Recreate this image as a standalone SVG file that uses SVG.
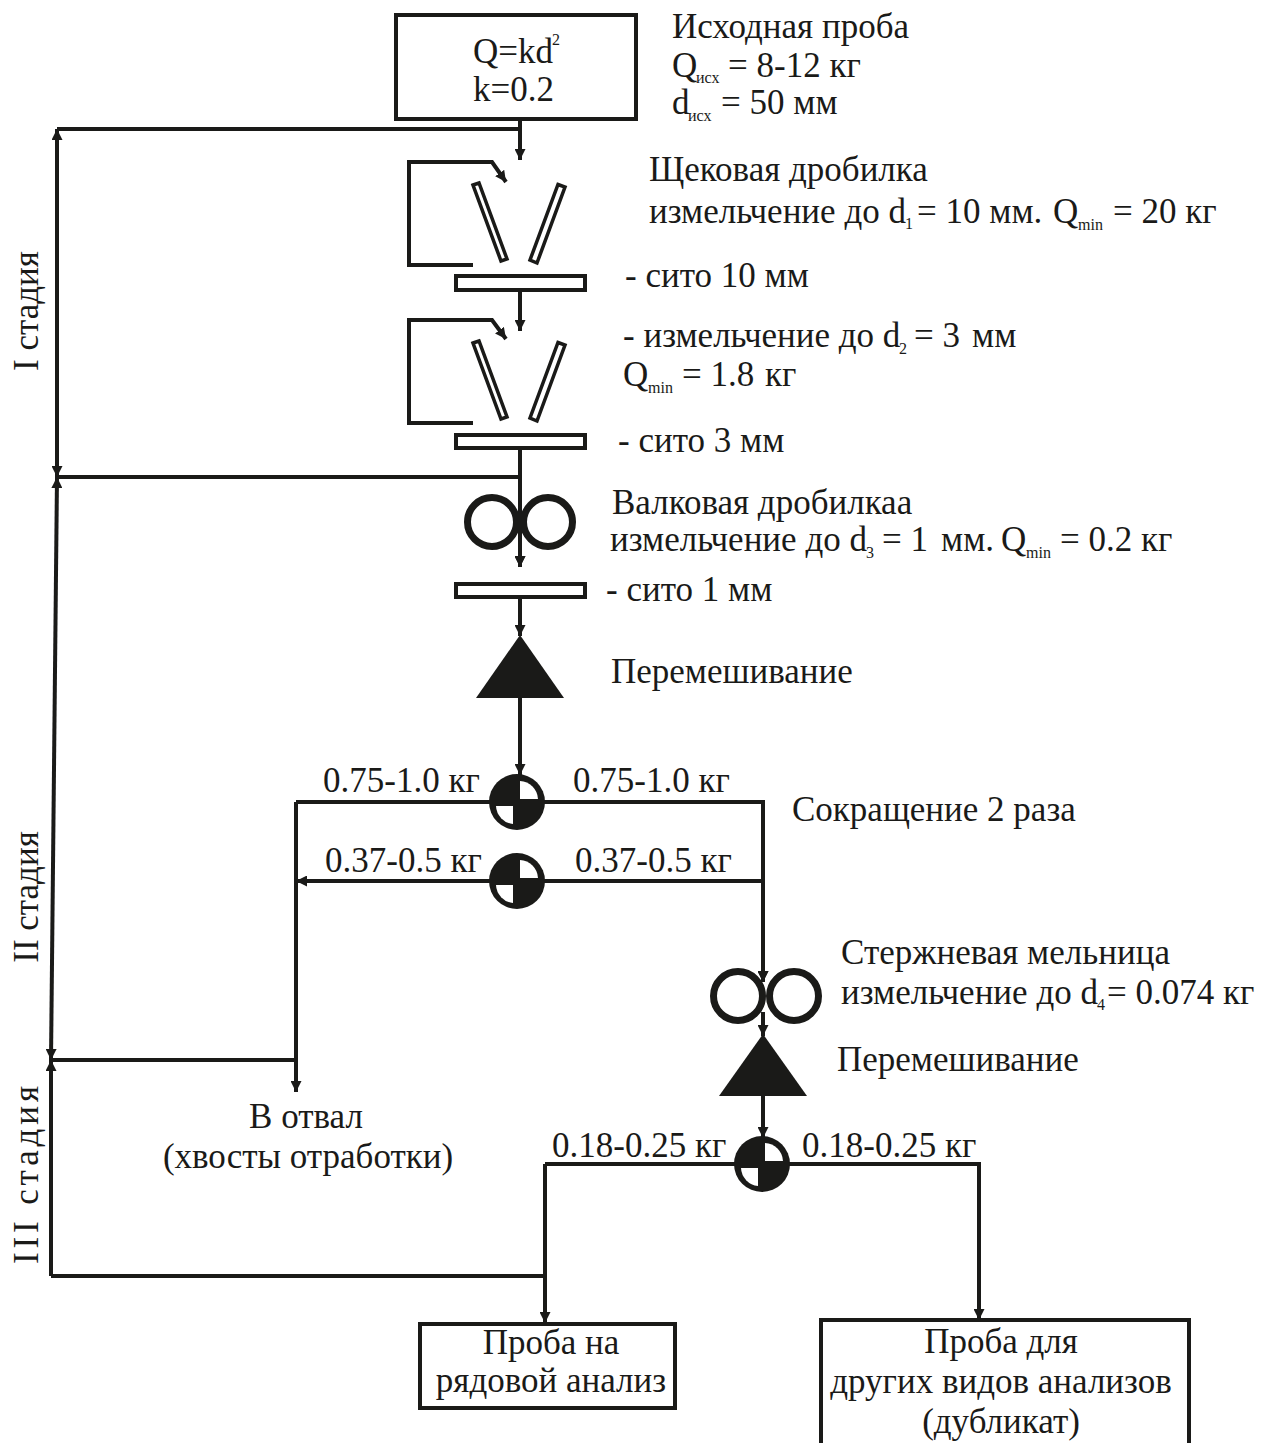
<svg xmlns="http://www.w3.org/2000/svg" width="1273" height="1443" viewBox="0 0 1273 1443">
<style>
text{font-family:"Liberation Serif","Times New Roman",serif;font-size:35px;fill:#1a1a18}
text.s{font-size:16px}
.m{text-anchor:middle}
.l{fill:none;stroke:#1a1a18;stroke-width:4;stroke-linejoin:miter}
.b{fill:#fff;stroke:#1a1a18;stroke-width:4}
.j{fill:#fff;stroke:#1a1a18;stroke-width:3.5}
.o{fill:#fff;stroke:#1a1a18;stroke-width:7}
.f{fill:#1a1a18}
.w{fill:#fff}
</style>
<defs>
<marker id="a" viewBox="0 0 10 10" refX="10" refY="5" markerWidth="11" markerHeight="11" markerUnits="userSpaceOnUse" orient="auto-start-reverse"><path d="M0 0L10 5L0 10Z" fill="#1a1a18"/></marker>
<g id="split"><circle r="28" class="f"/><path class="w" d="M3-3V-21A19 19 0 0 1 21-3Z"/><path class="w" d="M-4 4V22A19 19 0 0 1-21 4Z"/></g>
<g id="jaw"><polygon class="j" points="473,185 479,183 507,259 501,261"/><polygon class="j" points="558,184.5 565,187 537,263 530,260"/></g>
</defs>
<g id="connectors" class="l">
<path d="M520 119V160" marker-end="url(#a)"/>
<path d="M520 129H57"/>
<path d="M57 129V477" marker-start="url(#a)" marker-end="url(#a)"/>
<path d="M473 265H409V162H492L506 182" marker-end="url(#a)"/>
<path d="M520 290V331" marker-end="url(#a)"/>
<path d="M473 423H409V320H492L506 339" marker-end="url(#a)"/>
<path d="M520 448V567" marker-end="url(#a)"/>
<path d="M520 477H57"/>
<path d="M57 477L51 1060" marker-start="url(#a)" marker-end="url(#a)"/>
<path d="M520 597V636" marker-end="url(#a)"/>
<path d="M520 695V775" marker-end="url(#a)"/>
<path d="M296 802V1092" marker-end="url(#a)"/>
<path d="M296 802H763V982" marker-end="url(#a)"/>
<path d="M763 881H296" marker-end="url(#a)"/>
<path d="M296 1060H51"/>
<path d="M51 1060V1276" marker-start="url(#a)"/>
<path d="M51 1276H545"/>
<path d="M763 1012V1036" marker-end="url(#a)"/>
<path d="M763 1090V1138" marker-end="url(#a)"/>
<path d="M545 1164V1323" marker-end="url(#a)"/>
<path d="M545 1164H979V1320" marker-end="url(#a)"/>
</g>
<g id="source"><rect class="b" x="396" y="15" width="240" height="104"/>
<text x="473" y="63">Q=kd</text><text x="552" y="45" class="s">2</text><text x="473" y="101">k=0.2</text></g>
<g id="source-label"><text x="672" y="38">Исходная проба</text>
<text x="672" y="77">Q</text><text x="696" y="83" class="s">исх</text><text x="728" y="77">= 8-12 кг</text>
<text x="672" y="114">d</text><text x="688" y="121" class="s">исх</text><text x="721" y="114">= 50 мм</text></g>
<g id="jaw1"><use href="#jaw"/></g>
<g id="jaw1-label"><text x="649" y="181">Щековая дробилка</text>
<text x="649" y="223">измельчение до d</text><text x="905" y="229" class="s">1</text><text x="917" y="223">= 10 мм.</text><text x="1053" y="223">Q</text><text x="1078" y="230" class="s">min</text><text x="1113" y="223">= 20 кг</text></g>
<g id="sieve10"><rect class="b" x="456" y="276" width="129" height="14"/><text x="625" y="287">- сито 10 мм</text></g>
<g id="jaw2"><use href="#jaw" y="158"/></g>
<g id="jaw2-label"><text x="623" y="347">- измельчение до d</text><text x="899" y="354" class="s">2</text><text x="914" y="347">= 3</text><text x="972" y="347">мм</text>
<text x="623" y="386">Q</text><text x="648" y="393" class="s">min</text><text x="682" y="386">= 1.8</text><text x="765" y="386">кг</text></g>
<g id="sieve3"><rect class="b" x="456" y="435" width="129" height="13"/><text x="618" y="452">- сито 3 мм</text></g>
<g id="rolls1"><circle class="o" cx="492" cy="522" r="24.5"/><circle class="o" cx="548" cy="522" r="24.5"/><path class="l" d="M520 496V567" marker-end="url(#a)"/></g>
<g id="rolls1-label"><text x="612" y="514">Валковая дробилкаа</text>
<text x="610" y="551">измельчение до d</text><text x="866" y="558" class="s">3</text><text x="882" y="551">= 1</text><text x="941" y="551">мм.</text><text x="1001" y="551">Q</text><text x="1026" y="558" class="s">min</text><text x="1060" y="551">= 0.2 кг</text></g>
<g id="sieve1"><rect class="b" x="456" y="584" width="129" height="13"/><text x="606" y="601">- сито 1 мм</text></g>
<g id="mix1"><polygon class="f" points="520,635 564,698 476,698"/><text x="611" y="683">Перемешивание</text></g>
<g id="split1"><use href="#split" x="517" y="802"/></g>
<g id="split2"><use href="#split" x="517" y="881"/></g>
<g id="split-labels"><text x="323" y="792">0.75-1.0 кг</text><text x="573" y="792">0.75-1.0 кг</text><text x="792" y="821">Сокращение 2 раза</text>
<text x="325" y="872">0.37-0.5 кг</text><text x="575" y="872">0.37-0.5 кг</text></g>
<g id="rolls2"><circle class="o" cx="738" cy="996" r="24.5"/><circle class="o" cx="794" cy="996" r="24.5"/><path class="l" d="M763 950V982" marker-end="url(#a)"/></g>
<g id="rolls2-label"><text x="841" y="964">Стержневая мельница</text>
<text x="841" y="1004">измельчение до d</text><text x="1097" y="1010" class="s">4</text><text x="1107" y="1004">= 0.074 кг</text></g>
<g id="mix2"><polygon class="f" points="763,1034 807,1096 719,1096"/><text x="837" y="1071">Перемешивание</text></g>
<g id="waste"><text x="306" y="1128" class="m">В отвал</text><text x="308" y="1168" class="m">(хвосты отработки)</text></g>
<g id="split3"><use href="#split" x="762" y="1164"/></g>
<g id="split3-labels"><text x="552" y="1157">0.18-0.25 кг</text><text x="802" y="1157">0.18-0.25 кг</text></g>
<g id="stage1"><text class="m" transform="translate(38 311) rotate(-90)">I стадия</text></g>
<g id="stage2"><text class="m" transform="translate(38 897) rotate(-90)">II стадия</text></g>
<g id="stage3"><text class="m" transform="translate(38 1175) rotate(-90)" textLength="178" lengthAdjust="spacing">III стадия</text></g>
<g id="box1"><rect class="b" x="420" y="1324" width="255" height="84"/><text x="551" y="1354" class="m">Проба на</text><text x="551" y="1392" class="m">рядовой анализ</text></g>
<g id="box2"><path class="l" d="M821 1443V1320H1189V1443"/><text x="1001" y="1353" class="m">Проба для</text><text x="1001" y="1393" class="m">других видов анализов</text><text x="1001" y="1433" class="m">(дубликат)</text></g>
</svg>
